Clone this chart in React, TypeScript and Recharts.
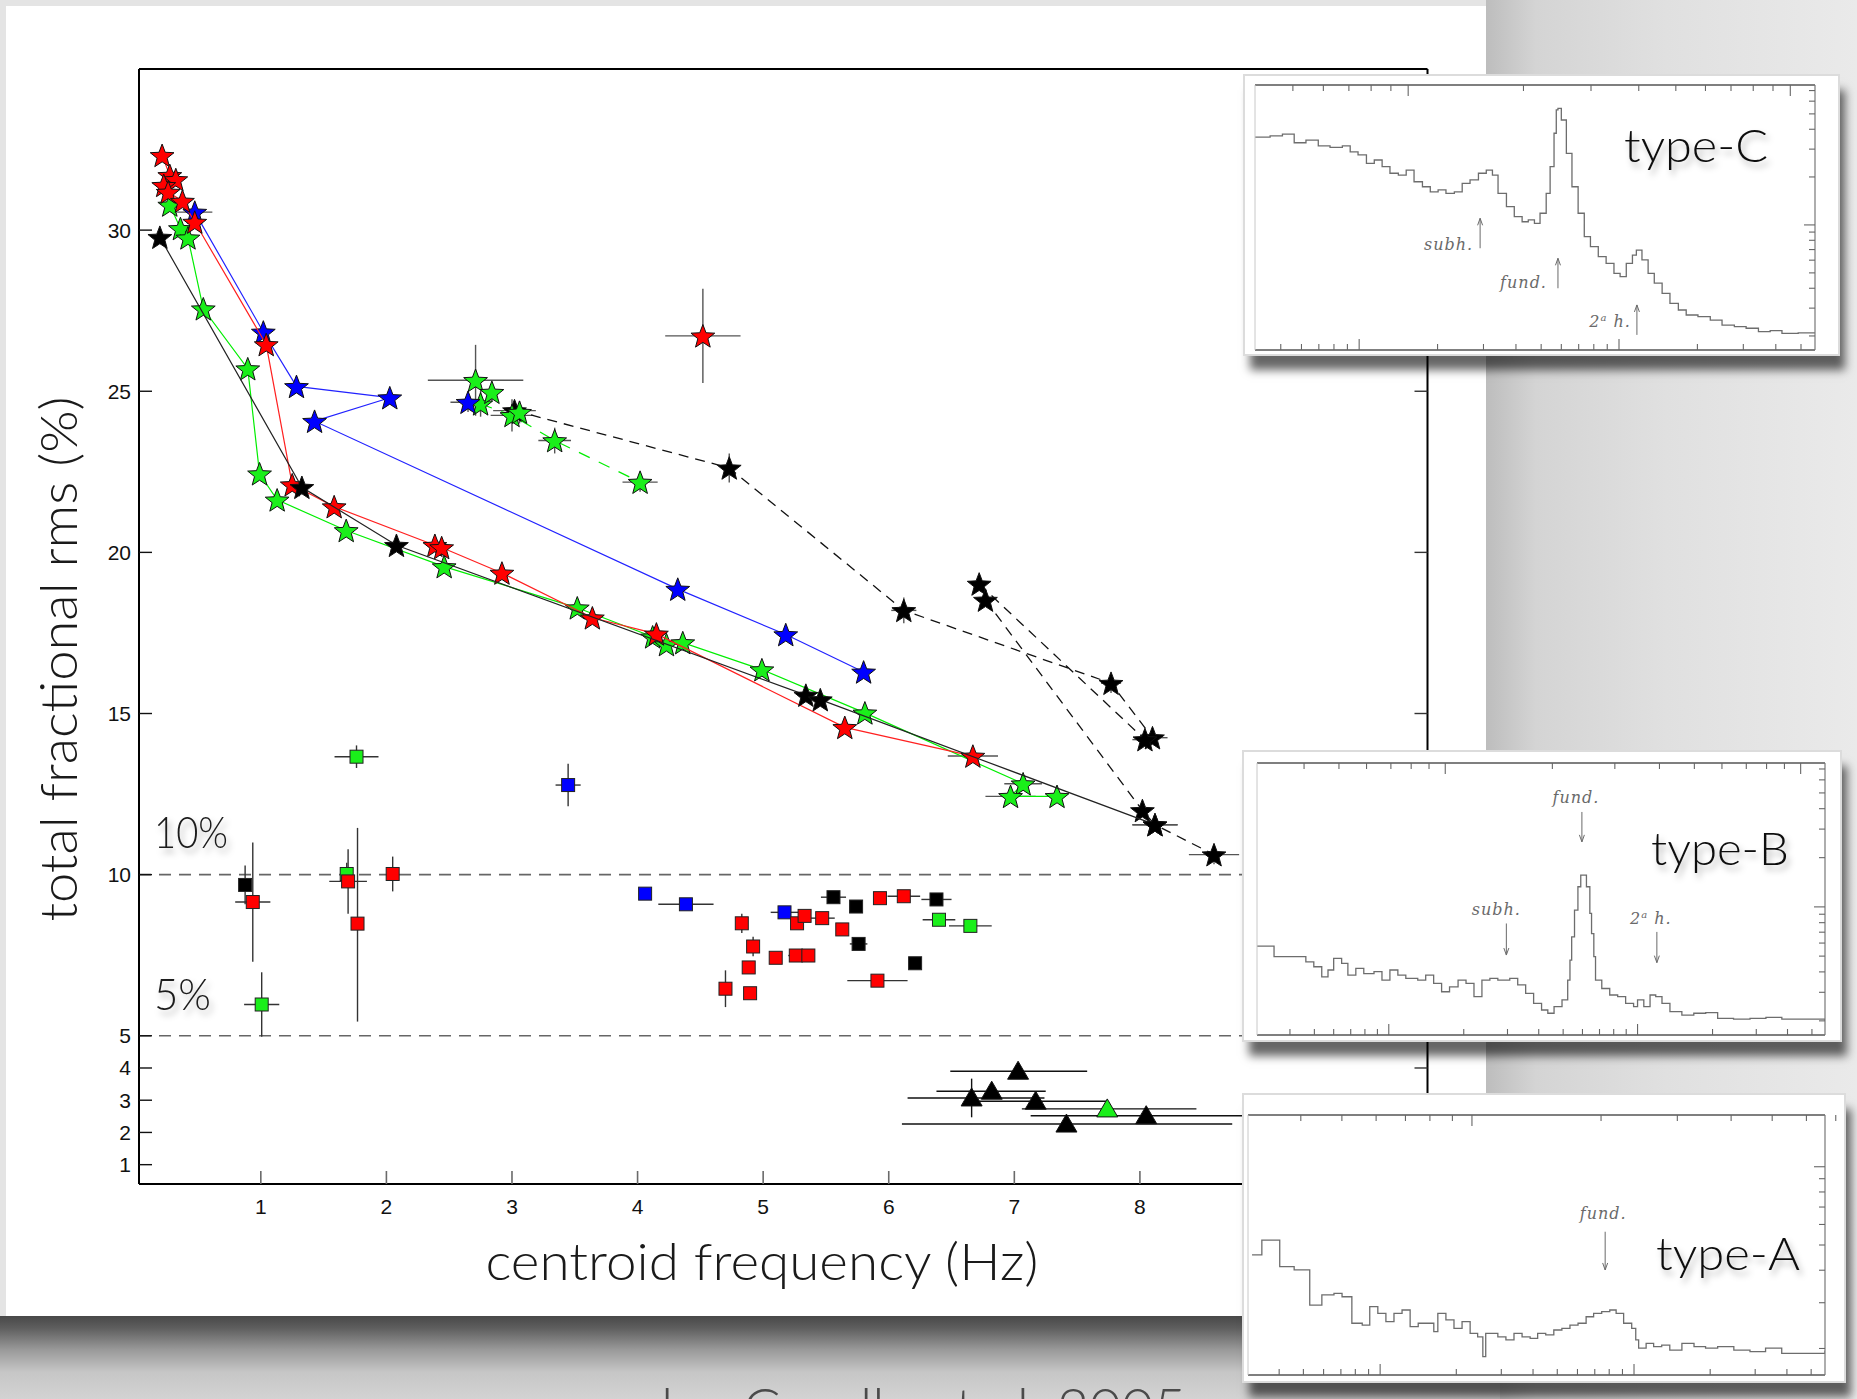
import React from 'react';
import { ScatterChart, Scatter, XAxis, YAxis, ErrorBar, ReferenceLine, LineChart, Line } from 'recharts';

// ---------------- main chart: axes ----------------
const xTickValues = [1, 2, 3, 4, 5, 6, 7, 8, 9, 10];
const yTickValues = [1, 2, 3, 4, 5, 10, 15, 20, 25, 30];
const xDomain = [0.03, 10.29];
const yDomain = [0.4, 35];
const rmsLevels = [10, 5];

// ---------------- type-C QPOs (stars) ----------------
const blackTrackDashedA = [
  { x: 3.02, y: 24.4, ex: 0.17 },
  { x: 4.73, y: 22.62, ey: 0.45 },
  { x: 6.12, y: 18.2, ex: 0.1, ey: 0.4 },
  { x: 7.77, y: 15.94, ex: 0.08, ey: 0.3 },
  { x: 8.1, y: 14.25, ex: 0.12 },
];
const blackTrackDashedB = [
  { x: 6.72, y: 19.02, ey: 0.2 },
  { x: 8.04, y: 14.19, ex: 0.1 },
];
const blackTrackDashedC = [
  { x: 6.77, y: 18.52 },
  { x: 8.02, y: 11.99 },
  { x: 8.12, y: 11.55, ex: 0.18 },
  { x: 8.59, y: 10.62, ex: 0.2, ey: 0.3 },
];
const greenTrackDashed = [
  { x: 2.75, y: 24.61, ey: 0.4 },
  { x: 3.0, y: 24.25, ex: 0.17, ey: 0.5 },
  { x: 3.34, y: 23.47, ex: 0.13, ey: 0.4 },
  { x: 4.02, y: 22.18, ex: 0.14, ey: 0.3 },
];
const greenTrack = [
  { x: 0.275, y: 30.78 },
  { x: 0.36, y: 30.05 },
  { x: 0.42, y: 29.76 },
  { x: 0.542, y: 27.56 },
  { x: 0.896, y: 25.7 },
  { x: 0.99, y: 22.44 },
  { x: 1.13, y: 21.63 },
  { x: 1.68, y: 20.68 },
  { x: 2.46, y: 19.56 },
  { x: 3.52, y: 18.28 },
  { x: 4.12, y: 17.38 },
  { x: 4.23, y: 17.14 },
  { x: 4.36, y: 17.2 },
  { x: 4.99, y: 16.36 },
  { x: 5.81, y: 15.02 },
  { x: 7.07, y: 12.82, ex: 0.15 },
  { x: 6.97, y: 12.43, ex: 0.2 },
  { x: 7.34, y: 12.43 },
];
const greenLoose = [
  { x: 2.71, y: 25.34, ex: 0.38, ey: 1.1 },
  { x: 2.84, y: 24.97, ey: 0.3 },
  { x: 3.06, y: 24.35, ey: 0.35 },
];
const blueTrack = [
  { x: 0.474, y: 30.56, ex: 0.14 },
  { x: 1.02, y: 26.84 },
  { x: 1.284, y: 25.15 },
  { x: 2.027, y: 24.8 },
  { x: 1.428, y: 24.07 },
  { x: 4.32, y: 18.86 },
  { x: 5.18, y: 17.45 },
  { x: 5.8, y: 16.29 },
];
const blueLoose = [{ x: 2.65, y: 24.66, ex: 0.14, ey: 0.3 }];
const redTrack = [
  { x: 0.214, y: 32.32 },
  { x: 0.275, y: 31.7 },
  { x: 0.323, y: 31.57 },
  { x: 0.227, y: 31.39 },
  { x: 0.262, y: 31.18 },
  { x: 0.376, y: 30.9 },
  { x: 0.474, y: 30.25 },
  { x: 1.043, y: 26.45 },
  { x: 1.25, y: 22.1 },
  { x: 1.584, y: 21.42 },
  { x: 2.386, y: 20.22 },
  { x: 2.44, y: 20.15 },
  { x: 2.92, y: 19.36 },
  { x: 3.64, y: 17.97 },
  { x: 4.15, y: 17.47 },
  { x: 5.65, y: 14.57 },
  { x: 6.67, y: 13.68, ex: 0.2 },
];
const redLoose = [{ x: 4.52, y: 26.72, ex: 0.3, ey: 1.46 }];
const blackTrack = [
  { x: 0.196, y: 29.78 },
  { x: 1.327, y: 22.02 },
  { x: 2.08, y: 20.22 },
  { x: 5.34, y: 15.57 },
  { x: 5.455, y: 15.43 },
  { x: 8.12, y: 11.55, ex: 0.18 },
];

// ---------------- type-B QPOs (squares) ----------------
const typeBGreen = [
  { x: 1.762, y: 13.66, ex: 0.175, ey: 0.35 },
  { x: 1.684, y: 10.02, ey: 0.35 },
  { x: 1.007, y: 5.97, ex: 0.14, ey: 1.0 },
  { x: 6.4, y: 8.6, ex: 0.13 },
  { x: 6.65, y: 8.41, ex: 0.17 },
];
const typeBBlack = [
  { x: 0.875, y: 9.68, ey: 0.6 },
  { x: 5.56, y: 9.3, ex: 0.1 },
  { x: 5.74, y: 9.01 },
  { x: 5.76, y: 7.85, ex: 0.07 },
  { x: 6.21, y: 7.25 },
  { x: 6.38, y: 9.23, ex: 0.12 },
];
const typeBBlue = [
  { x: 3.447, y: 12.78, ex: 0.1, ey: 0.66 },
  { x: 4.06, y: 9.41 },
  { x: 4.385, y: 9.08, ex: 0.22 },
  { x: 5.17, y: 8.83, ex: 0.11 },
];
const typeBRed = [
  { x: 0.936, y: 9.15, ex: 0.14, ey: 1.85 },
  { x: 1.695, y: 9.79, ex: 0.15, ey: 1.0 },
  { x: 1.77, y: 8.48, ey: [3.04, 2.97] },
  { x: 2.05, y: 10.02, ey: 0.54 },
  { x: 4.7, y: 6.46, ey: 0.57 },
  { x: 4.83, y: 8.49, ey: 0.3 },
  { x: 4.885, y: 7.12 },
  { x: 4.896, y: 6.32 },
  { x: 4.92, y: 7.77, ey: 0.3 },
  { x: 5.1, y: 7.42 },
  { x: 5.26, y: 7.49, ex: 0.06 },
  { x: 5.36, y: 7.49 },
  { x: 5.27, y: 8.49 },
  { x: 5.33, y: 8.72 },
  { x: 5.47, y: 8.65, ex: 0.1 },
  { x: 5.63, y: 8.3 },
  { x: 5.93, y: 9.27 },
  { x: 6.12, y: 9.33, ex: 0.13 },
  { x: 5.91, y: 6.71, ex: 0.24 },
];

// ---------------- type-A QPOs (triangles) ----------------
const typeABlack = [
  { x: 7.03, y: 3.9, ex: [0.54, 0.55] },
  { x: 6.82, y: 3.28, ex: [0.44, 0.43] },
  { x: 6.66, y: 3.07, ex: [0.51, 0.58], ey: 0.6 },
  { x: 7.17, y: 2.97, ex: [0.5, 0.57] },
  { x: 8.05, y: 2.52, ex: [0.92, 0.82] },
  { x: 7.415, y: 2.26, ex: [1.31, 1.32] },
];
const typeAGreen = [{ x: 7.74, y: 2.73, ex: [0.68, 0.71] }];

// ---------------- inset spectra ----------------
const specCfreq = [0, 2.7, 4.9, 7.0, 9.1, 11.3, 13.4, 15.6, 17.0, 18.4, 19.9, 21.3, 22.7, 24.1, 25.6, 27.0, 28.4, 29.9, 31.3, 32.7, 34.1, 35.6, 37.0, 38.4, 39.9, 41.3, 42.4, 43.4, 44.9, 46.3, 47.7, 48.8, 49.9, 50.9, 52.0, 52.7, 53.4, 53.8, 54.1, 54.7, 55.6, 56.6, 57.7, 58.8, 59.9, 61.3, 62.7, 64.1, 65.2, 66.3, 67.4, 68.1, 69.1, 70.2, 71.3, 72.7, 74.1, 75.6, 77.0, 79.1, 81.3, 83.4, 85.6, 87.7, 89.9, 92.0, 94.1, 97.0, 100];
const specCpower = [80.3, 80.8, 81.5, 78.2, 79.2, 77.0, 76.5, 77.0, 74.8, 73.6, 70.4, 71.7, 69.2, 66.7, 66.0, 67.9, 63.5, 61.6, 59.7, 60.4, 59.1, 59.7, 62.9, 64.2, 66.7, 67.9, 66.0, 59.1, 54.1, 50.3, 48.4, 49.1, 47.8, 51.6, 59.1, 69.2, 81.8, 90.6, 91.2, 86.8, 74.2, 61.6, 51.6, 42.8, 39.0, 35.2, 32.7, 28.9, 27.7, 32.7, 35.8, 37.7, 34.0, 28.9, 25.2, 21.4, 17.6, 15.1, 13.2, 12.6, 11.3, 9.4, 8.8, 8.2, 6.9, 7.3, 6.3, 6.5, 6.3];
const specBfreq = [0, 2.3, 3.0, 5.8, 7.2, 8.6, 10.0, 11.4, 12.5, 13.5, 14.9, 16.0, 17.4, 18.8, 20.6, 22.0, 23.4, 24.8, 26.2, 28.3, 29.7, 31.1, 32.5, 33.9, 35.4, 36.8, 38.2, 39.6, 41.0, 42.4, 44.5, 45.9, 47.3, 48.7, 50.1, 51.2, 52.3, 53.7, 54.7, 55.1, 55.4, 55.9, 56.5, 57.0, 57.5, 58.0, 58.6, 58.9, 59.3, 59.6, 60.7, 62.1, 63.5, 64.9, 66.3, 67.0, 68.1, 69.2, 70.2, 71.3, 72.7, 74.8, 76.9, 79.0, 81.1, 83.9, 86.8, 89.6, 92.4, 95.2, 100];
const specBpower = [32.7, 32.7, 28.8, 28.8, 28.8, 26.9, 25.1, 21.4, 23.9, 28.2, 26.3, 22.0, 24.5, 22.6, 23.3, 20.2, 23.9, 22.0, 20.8, 20.2, 22.0, 19.0, 15.9, 17.7, 20.2, 19.0, 14.1, 20.2, 20.8, 20.2, 20.8, 18.4, 15.3, 11.6, 9.2, 8.0, 10.4, 12.9, 20.2, 27.5, 36.1, 45.9, 54.5, 58.8, 58.8, 54.5, 44.7, 37.3, 28.8, 20.2, 17.1, 14.7, 14.1, 11.6, 10.4, 12.9, 10.4, 14.7, 14.1, 11.6, 8.6, 7.3, 8.0, 8.2, 6.1, 5.8, 6.1, 6.5, 5.8, 5.8, 5.3];
const specAfreq = [0.7, 2.4, 5.5, 8.0, 10.7, 12.8, 14.9, 16.3, 18.0, 19.8, 21.1, 22.5, 23.9, 25.3, 26.7, 28.1, 29.5, 32.2, 32.9, 34.3, 35.7, 37.1, 38.5, 39.8, 40.7, 41.2, 43.3, 44.7, 46.1, 47.5, 48.9, 50.2, 51.6, 53.0, 54.4, 55.8, 57.2, 58.6, 59.9, 61.3, 62.7, 63.8, 65.1, 66.5, 67.2, 67.7, 69.0, 70.3, 71.7, 73.1, 75.2, 77.3, 79.3, 81.4, 84.2, 87.0, 89.7, 92.5, 95.3, 100];
const specApower = [46.2, 51.9, 41.7, 40.4, 26.9, 30.8, 31.4, 30.1, 19.9, 19.2, 26.3, 23.7, 20.5, 23.7, 25.0, 18.6, 19.9, 16.7, 23.7, 21.2, 17.9, 20.5, 16.0, 14.7, 7.1, 16.0, 14.7, 13.5, 16.0, 14.7, 14.1, 16.0, 15.4, 17.3, 17.9, 19.2, 19.9, 22.4, 23.7, 24.4, 25.0, 23.7, 19.9, 17.9, 13.5, 10.3, 12.2, 10.9, 11.5, 9.6, 12.2, 10.9, 10.3, 10.9, 9.6, 9.0, 10.3, 8.3, 8.3, 9.4];

const insetCMajorX = [18.6, 65.0];
const insetCMinorX = [4.6, 8.3, 11.4, 14.1, 16.5, 32.6, 40.8, 46.6, 51.1, 54.7, 57.8, 60.5, 62.9, 79.0, 87.2, 93.0, 97.5];
const insetCMajorY = [47.2];
const insetCMinorY = [5.3, 15.8, 23.3, 29.1, 33.9, 37.9, 41.4, 44.5, 65.3, 75.8, 83.3, 89.1, 93.9, 97.9];
const insetBMajorX = [23.2, 67.0];
const insetBMinorX = [5.8, 10.1, 13.5, 16.5, 19.0, 21.2, 36.4, 44.1, 49.6, 53.9, 57.3, 60.3, 62.8, 65.0, 80.2, 87.9, 93.4, 97.7];
const insetBMajorY = [47.1];
const insetBMinorY = [5.2, 15.7, 23.2, 29.0, 33.8, 37.8, 41.3, 44.4, 65.2, 75.7, 83.2, 89.0, 93.8, 97.8];
const insetAMajorX = [22.9, 66.9];
const insetAMinorX = [5.4, 9.6, 13.1, 16.1, 18.6, 20.9, 36.1, 43.9, 49.4, 53.6, 57.1, 60.1, 62.6, 64.9, 80.1, 87.9, 93.4, 97.6];
const insetAMajorY = [80.1];
const insetAMinorY = [10.2, 27.8, 40.3, 50.0, 57.9, 64.6, 70.4, 75.5];

const notesC = [
  { label: 'subh.', x: 40.2, from: 38.4, to: 49.7, dx: -7, dy: 2, anchor: 'end' },
  { label: 'fund.', x: 54.1, from: 23.3, to: 34.6, dx: -11, dy: 0, anchor: 'end' },
  { label: '2ª h.', x: 68.2, from: 5.7, to: 17.0, dx: -6, dy: -8, anchor: 'end' },
];
const notesB = [
  { label: 'fund.', x: 57.2, from: 82.0, to: 71.0, dx: -6, dy: -9, anchor: 'middle' },
  { label: 'subh.', x: 43.9, from: 41.0, to: 29.4, dx: -10, dy: -8, anchor: 'middle' },
  { label: '2ª h.', x: 70.4, from: 37.9, to: 26.6, dx: -6, dy: -8, anchor: 'middle' },
];
const notesA = [{ label: 'fund.', x: 61.9, from: 55.1, to: 40.4, dx: -2, dy: -13, anchor: 'middle' }];

const zip = (fs: number[], ps: number[]) => fs.map((f, i) => ({ x: f, v: ps[i] }));

// ---------------- marker shapes ----------------
const starPath = (cx: number, cy: number, R: number, r: number) => {
  let d = '';
  for (let i = 0; i < 10; i++) {
    const a = -Math.PI / 2 + (i * Math.PI) / 5;
    const rad = i % 2 === 0 ? R : r;
    d += (i === 0 ? 'M' : 'L') + (cx + rad * Math.cos(a)).toFixed(2) + ',' + (cy + rad * Math.sin(a)).toFixed(2);
  }
  return d + 'Z';
};
const StarShape = (p: any) =>
  p.cx == null ? <g /> : <path d={starPath(p.cx, p.cy + 1.2, 12.5, 5.3)} fill={p.fill} stroke="#111" strokeWidth={1} />;
const SquareShape = (p: any) =>
  p.cx == null ? <g /> : <rect x={p.cx - 6.5} y={p.cy - 6.5} width={13} height={13} fill={p.fill} stroke="#222" strokeWidth={1} />;
const TriangleShape = (p: any) =>
  p.cx == null ? (
    <g />
  ) : (
    <path d={`M${p.cx},${p.cy - 10} L${p.cx + 10.5},${p.cy + 8} L${p.cx - 10.5},${p.cy + 8} Z`} fill={p.fill} stroke="#111" strokeWidth={1} />
  );

const FONT = "'Liberation Sans', Arial, sans-serif";
const TITLE_FONT = "Lato, 'Open Sans', sans-serif";

const BottomTick = (p: any) => (
  <g>
    <line x1={p.x} x2={p.x} y1={p.y} y2={p.y - 13} stroke="#6a6a6a" strokeWidth={1.6} />
    <text x={p.x} y={p.y + 30} textAnchor="middle" fontSize={21} fontFamily={FONT} fill="#111">
      {p.payload.value}
    </text>
  </g>
);
const TopTick = (p: any) => <line x1={p.x} x2={p.x} y1={p.y} y2={p.y + 13} stroke="#777" strokeWidth={1.6} />;
const LeftTick = (p: any) => (
  <g>
    <line x1={p.x} x2={p.x + 13} y1={p.y} y2={p.y} stroke="#111" strokeWidth={1.4} />
    <text x={p.x - 8} y={p.y + 7.5} textAnchor="end" fontSize={21} fontFamily={FONT} fill="#111">
      {p.payload.value}
    </text>
  </g>
);
const RightTick = (p: any) => <line x1={p.x} x2={p.x - 13} y1={p.y} y2={p.y} stroke="#333" strokeWidth={1.4} />;

const errs = (color: string) => [
  <ErrorBar key="ex" dataKey="ex" direction="x" width={0} stroke={color} strokeWidth={1.4} />,
  <ErrorBar key="ey" dataKey="ey" direction="y" width={0} stroke={color} strokeWidth={1.4} />,
];

const RED = '#ff0000';
const GREEN = '#1aef1a';
const BLUE = '#0000ff';
const BLACK = '#000000';

function MainChart() {
  const common = { isAnimationActive: false };
  return (
    <ScatterChart width={1857} height={1399} margin={{ top: 39, right: 369.5, bottom: 185, left: 79 }}>
      <XAxis type="number" dataKey="x" domain={xDomain} allowDataOverflow ticks={xTickValues} interval={0} height={30} tickSize={0} tickMargin={0} tickLine={false} axisLine={{ stroke: '#000', strokeWidth: 2 }} tick={BottomTick} />
      <XAxis xAxisId="top" orientation="top" type="number" domain={xDomain} allowDataOverflow ticks={xTickValues} interval={0} height={30} tickSize={0} tickMargin={0} tickLine={false} axisLine={{ stroke: '#000', strokeWidth: 2 }} tick={TopTick} />
      <YAxis type="number" dataKey="y" domain={yDomain} allowDataOverflow ticks={yTickValues} interval={0} width={60} tickSize={0} tickMargin={0} tickLine={false} axisLine={{ stroke: '#000', strokeWidth: 2 }} tick={LeftTick} />
      <YAxis yAxisId="right" orientation="right" type="number" domain={yDomain} allowDataOverflow ticks={yTickValues} interval={0} width={60} tickSize={0} tickMargin={0} tickLine={false} axisLine={{ stroke: '#000', strokeWidth: 2 }} tick={RightTick} />
      {rmsLevels.map((v) => (
        <ReferenceLine key={v} y={v} stroke="#666" strokeWidth={1.6} strokeDasharray="12 8" />
      ))}

      <Scatter data={blackTrackDashedA} fill={BLACK} shape={StarShape} line={{ stroke: '#111', strokeWidth: 1.3, strokeDasharray: '10 7' }} {...common}>{errs('#555')}</Scatter>
      <Scatter data={blackTrackDashedB} fill={BLACK} shape={StarShape} line={{ stroke: '#111', strokeWidth: 1.3, strokeDasharray: '10 7' }} {...common}>{errs('#555')}</Scatter>
      <Scatter data={blackTrackDashedC} fill={BLACK} shape={StarShape} line={{ stroke: '#111', strokeWidth: 1.3, strokeDasharray: '10 7' }} {...common}>{errs('#555')}</Scatter>

      <Scatter data={greenTrack} fill={GREEN} shape={StarShape} line={{ stroke: '#00ee00', strokeWidth: 1.2 }} {...common}>{errs('#555')}</Scatter>
      <Scatter data={greenTrackDashed} fill={GREEN} shape={StarShape} line={{ stroke: '#00ee00', strokeWidth: 1.2, strokeDasharray: '12 10' }} {...common}>{errs('#555')}</Scatter>
      <Scatter data={greenLoose} fill={GREEN} shape={StarShape} {...common}>{errs('#555')}</Scatter>

      <Scatter data={blueTrack} fill={BLUE} shape={StarShape} line={{ stroke: '#2222ff', strokeWidth: 1.2 }} {...common}>{errs('#555')}</Scatter>
      <Scatter data={blueLoose} fill={BLUE} shape={StarShape} {...common}>{errs('#555')}</Scatter>

      <Scatter data={redTrack} fill={RED} shape={StarShape} line={{ stroke: '#ff2020', strokeWidth: 1.2 }} {...common}>{errs('#555')}</Scatter>
      <Scatter data={redLoose} fill={RED} shape={StarShape} {...common}>{errs('#555')}</Scatter>

      <Scatter data={blackTrack} fill={BLACK} shape={StarShape} line={{ stroke: '#222', strokeWidth: 1.2 }} {...common}>{errs('#555')}</Scatter>

      <Scatter data={typeBGreen} fill={GREEN} shape={SquareShape} {...common}>{errs('#333')}</Scatter>
      <Scatter data={typeBBlack} fill={BLACK} shape={SquareShape} {...common}>{errs('#333')}</Scatter>
      <Scatter data={typeBBlue} fill={BLUE} shape={SquareShape} {...common}>{errs('#333')}</Scatter>
      <Scatter data={typeBRed} fill={RED} shape={SquareShape} {...common}>{errs('#333')}</Scatter>

      <Scatter data={typeABlack} fill={BLACK} shape={TriangleShape} {...common}>{errs('#111')}</Scatter>
      <Scatter data={typeAGreen} fill={GREEN} shape={TriangleShape} {...common}>{errs('#111')}</Scatter>
    </ScatterChart>
  );
}

const noteText = (label: string) => {
  if (label.indexOf('ª') >= 0) {
    const [a, b] = label.split('ª');
    return [
      <tspan key="a">{a}</tspan>,
      <tspan key="s" dy={-6} fontSize={10}>a</tspan>,
      <tspan key="b" dy={6}>{b}</tspan>,
    ];
  }
  return label;
};

const arrowShape = (n: any) => (p: any) => {
  const { x1, y1, x2, y2 } = p;
  const dir = y2 < y1 ? 1 : -1;
  return (
    <g>
      <line x1={x1} y1={y1} x2={x2} y2={y2} stroke="#6a6a6a" strokeWidth={1} />
      <path d={`M${x2 - 2.5},${y2 + dir * 7} L${x2},${y2} L${x2 + 2.5},${y2 + dir * 7}`} fill="none" stroke="#6a6a6a" strokeWidth={1} />
      <text x={x1 + n.dx} y={y1 + n.dy} textAnchor={n.anchor} fontSize={16} fontStyle="italic" letterSpacing={1} fontFamily="'DejaVu Serif', serif" fill="#6a6a6a">
        {noteText(n.label)}
      </text>
    </g>
  );
};

function Inset({ box, frame, data, majorX, minorX, majorY, minorY, notes }: any) {
  const pad = 30;
  const ticksX = [...minorX, ...majorX];
  const ticksY = [...minorY, ...majorY];
  const isMajX = (v: number) => majorX.indexOf(v) >= 0;
  const isMajY = (v: number) => majorY.indexOf(v) >= 0;
  return (
    <div
      style={{
        position: 'absolute',
        left: box.left,
        top: box.top,
        width: box.width,
        height: box.height,
        background: '#fff',
        boxShadow: 'inset 0 0 0 2px #dcdcdc, 6px 15px 9px -1px rgba(0,0,0,0.6)',
      }}
    >
      <div style={{ position: 'absolute', left: frame.left - box.left - pad, top: frame.top - box.top - pad }}>
        <LineChart width={frame.width + 2 * pad} height={frame.height + 2 * pad} data={data} margin={{ top: 0, right: 0, bottom: 0, left: 0 }}>
          <XAxis type="number" dataKey="x" domain={[0, 100]} allowDataOverflow ticks={ticksX} interval={0} height={pad} tickSize={0} tickMargin={0} tickLine={false} axisLine={{ stroke: '#555', strokeWidth: 1.4 }}
            tick={(p: any) => <line x1={p.x} x2={p.x} y1={p.y} y2={p.y - (isMajX(p.payload.value) ? 11 : 6)} stroke="#666" strokeWidth={1.1} />} />
          <XAxis xAxisId="t" orientation="top" type="number" domain={[0, 100]} allowDataOverflow ticks={ticksX} interval={0} height={pad} tickSize={0} tickMargin={0} tickLine={false} axisLine={{ stroke: '#555', strokeWidth: 1.4 }}
            tick={(p: any) => <line x1={p.x} x2={p.x} y1={p.y} y2={p.y + (isMajX(p.payload.value) ? 11 : 6)} stroke="#666" strokeWidth={1.1} />} />
          <YAxis type="number" domain={[0, 100]} allowDataOverflow width={pad} tick={false} tickLine={false} axisLine={{ stroke: '#c8c8c8', strokeWidth: 1 }} />
          <YAxis yAxisId="r" orientation="right" type="number" domain={[0, 100]} allowDataOverflow ticks={ticksY} interval={0} width={pad} tickSize={0} tickMargin={0} tickLine={false} axisLine={{ stroke: '#777', strokeWidth: 1.2 }}
            tick={(p: any) => <line x1={p.x} x2={p.x - (isMajY(p.payload.value) ? 11 : 6)} y1={p.y} y2={p.y} stroke="#666" strokeWidth={1.1} />} />
          <Line dataKey="v" type="stepAfter" stroke="#6d6d6d" strokeWidth={1.3} dot={false} isAnimationActive={false} />
          {notes.map((n: any, i: number) => (
            <ReferenceLine key={i} segment={[{ x: n.x, y: n.from }, { x: n.x, y: n.to }]} shape={arrowShape(n)} />
          ))}
        </LineChart>
      </div>
    </div>
  );
}

export default function App() {
  return (
    <div
      style={{
        position: 'absolute',
        left: 0,
        top: 0,
        width: 1857,
        height: 1399,
        overflow: 'hidden',
        background: '#e4e4e4',
      }}
    >
      {/* right-side slide gradient */}
      <div style={{ position: 'absolute', left: 1486, top: 0, width: 371, height: 1399, background: 'linear-gradient(90deg, #bdbdbd 0px, #d4d4d4 50px, #e0e0e0 180px, #eaeaea 371px)' }} />
      {/* white paper */}
      <div style={{ position: 'absolute', left: 6, top: 6, width: 1480, height: 1310, background: '#ffffff' }} />
      {/* shadow band under paper */}
      <div style={{ position: 'absolute', left: 0, top: 1316, width: 1500, height: 83, background: 'linear-gradient(180deg, #484848 0px, #5e5e5e 12px, #9a9a9a 34px, #c6c6c6 56px, #d3d3d3 83px)' }} />
      <svg width={1857} height={1399} style={{ position: 'absolute', left: 0, top: 0 }}>
        <text x={634} y={1428} fontSize={56} fontWeight={300} fontFamily={TITLE_FONT} fill="#4a4a4a" textLength={552} lengthAdjust="spacingAndGlyphs">
          also Casella et al. 2005
        </text>
      </svg>

      <div style={{ position: 'absolute', left: 0, top: 0 }}>
        <MainChart />
      </div>

      <svg width={1857} height={1399} style={{ position: 'absolute', left: 0, top: 0, pointerEvents: 'none' }}>
        <defs>
          <filter id="soft" x="-20%" y="-30%" width="150%" height="180%">
            <feDropShadow dx="3" dy="5" stdDeviation="3" floodColor="#000" floodOpacity="0.3" />
          </filter>
        </defs>
        <text x={154} y={848} fontSize={44} fontWeight={300} fontFamily={TITLE_FONT} fill="#1a1a1a" textLength={74} lengthAdjust="spacingAndGlyphs" filter="url(#soft)">
          10%
        </text>
        <text x={154} y={1010} fontSize={44} fontWeight={300} fontFamily={TITLE_FONT} fill="#1a1a1a" textLength={57} lengthAdjust="spacingAndGlyphs" filter="url(#soft)">
          5%
        </text>
        <text x={762} y={1280} textAnchor="middle" fontSize={52} fontWeight={300} fontFamily={TITLE_FONT} fill="#1a1a1a" textLength={553} lengthAdjust="spacingAndGlyphs">
          centroid frequency (Hz)
        </text>
        <text x={0} y={0} transform="translate(77,659) rotate(-90)" textAnchor="middle" fontSize={51} fontWeight={300} fontFamily={TITLE_FONT} fill="#1a1a1a" textLength={525} lengthAdjust="spacingAndGlyphs">
          total fractional rms (%)
        </text>
      </svg>

      <Inset box={{ left: 1243, top: 74, width: 597, height: 282 }} frame={{ left: 1255, top: 85, width: 560, height: 265 }} data={zip(specCfreq, specCpower)} majorX={insetCMajorX} minorX={insetCMinorX} majorY={insetCMajorY} minorY={insetCMinorY} notes={notesC} />
      <Inset box={{ left: 1242, top: 750, width: 600, height: 292 }} frame={{ left: 1257, top: 763, width: 568, height: 272 }} data={zip(specBfreq, specBpower)} majorX={insetBMajorX} minorX={insetBMinorX} majorY={insetBMajorY} minorY={insetBMinorY} notes={notesB} />
      <Inset box={{ left: 1242, top: 1093, width: 604, height: 290 }} frame={{ left: 1248, top: 1115, width: 577, height: 260 }} data={zip(specAfreq, specApower)} majorX={insetAMajorX} minorX={insetAMinorX} majorY={insetAMajorY} minorY={insetAMinorY} notes={notesA} />

      <svg width={1857} height={1399} style={{ position: 'absolute', left: 0, top: 0, pointerEvents: 'none' }}>
        <text x={1624} y={162} fontSize={46} fontWeight={300} fontFamily={TITLE_FONT} fill="#111" textLength={144} lengthAdjust="spacingAndGlyphs" filter="url(#soft)">
          type-C
        </text>
        <text x={1651} y={865} fontSize={46} fontWeight={300} fontFamily={TITLE_FONT} fill="#111" textLength={138} lengthAdjust="spacingAndGlyphs" filter="url(#soft)">
          type-B
        </text>
        <text x={1656} y={1270} fontSize={46} fontWeight={300} fontFamily={TITLE_FONT} fill="#111" textLength={144} lengthAdjust="spacingAndGlyphs" filter="url(#soft)">
          type-A
        </text>
      </svg>
    </div>
  );
}
